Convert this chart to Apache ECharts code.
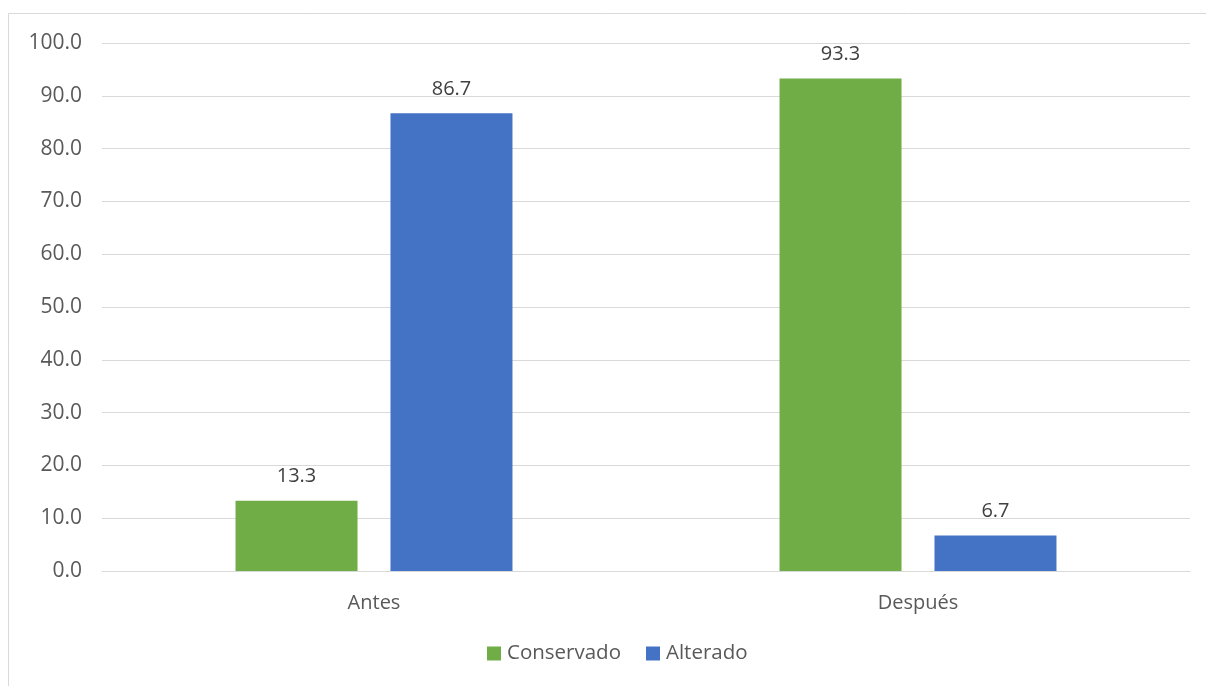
<!DOCTYPE html>
<html><head><meta charset="utf-8">
<script src="https://cdn.jsdelivr.net/npm/echarts@6/dist/echarts.min.js"></script>
<style>html,body{margin:0;padding:0;background:#fff}#c{width:1206px;height:686px}</style>
</head><body><div id="c"></div>
<script>
const categories = ['Antes', 'Después'];
const conservado = [13.3, 93.3];
const alterado = [86.7, 6.7];
const seriesNames = ['Conservado', 'Alterado'];

const chart = echarts.init(document.getElementById('c'), null, {renderer: 'canvas'});
const font = '"Open Sans", sans-serif';
chart.setOption({
  animation: false,
  backgroundColor: '#fff',
  graphic: [{type: 'rect', shape: {x: 8.5, y: 13.5, width: 1300, height: 800}, style: {fill: 'none', stroke: '#d9d9d9', lineWidth: 1}, silent: true, z: -1}],
  grid: {left: 102, right: 16, top: 43, bottom: 115, containLabel: false},
  legend: {
    bottom: 17, left: 482, itemWidth: 14, itemHeight: 14, itemGap: 25,
    icon: 'rect',
    textStyle: {fontFamily: font, fontSize: 20.5, color: '#595959', padding: [0,0,0,1]},
    data: seriesNames
  },
  xAxis: {
    type: 'category', data: categories,
    axisLine: {lineStyle: {color: '#d9d9d9', width: 1}},
    axisTick: {show: false},
    axisLabel: {fontFamily: font, fontSize: 20, color: '#595959', margin: 22}
  },
  yAxis: {
    type: 'value', min: 0, max: 100, interval: 10,
    axisLine: {show: false}, axisTick: {show: false},
    splitLine: {lineStyle: {color: '#d9d9d9', width: 1}},
    axisLabel: {fontFamily: font, fontSize: 21, color: '#595959', margin: 20, formatter: v => v.toFixed(1)}
  },
  series: [
    {name: seriesNames[0], type: 'bar', data: conservado, barWidth: 122, barGap: '27%',
     itemStyle: {color: '#70ad47'},
     label: {show: true, position: 'top', distance: 14, fontFamily: font, fontSize: 20, color: '#404040', formatter: p => p.value.toFixed(1)}},
    {name: seriesNames[1], type: 'bar', data: alterado, barWidth: 122, barGap: '27%',
     itemStyle: {color: '#4472c4'},
     label: {show: true, position: 'top', distance: 14, fontFamily: font, fontSize: 20, color: '#404040', formatter: p => p.value.toFixed(1)}}
  ]
});
</script></body></html>
